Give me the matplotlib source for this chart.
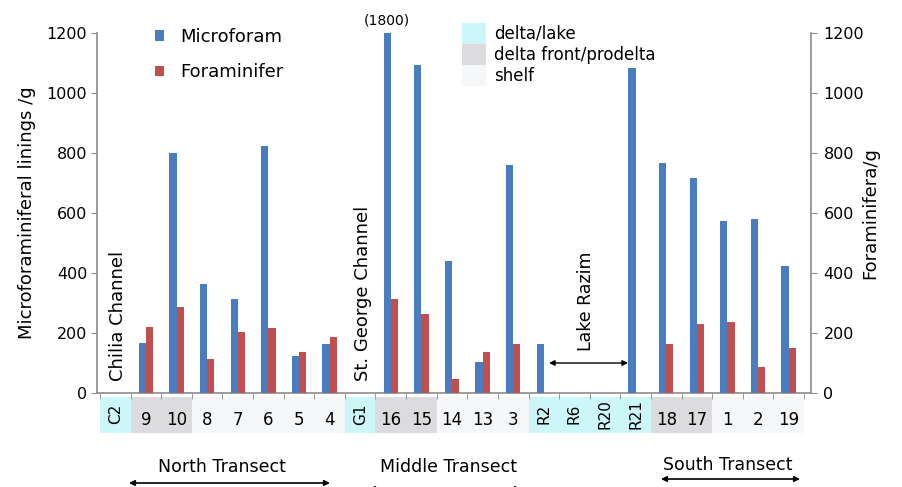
import matplotlib
matplotlib.use("Agg")
import matplotlib.pyplot as plt
from matplotlib.patches import Patch, Rectangle, FancyArrowPatch
import matplotlib.transforms as mtransforms

categories = ["C2", "9", "10", "8", "7", "6", "5", "4", "G1", "16", "15", "14", "13",
              "3", "R2", "R6", "R20", "R21", "18", "17", "1", "2", "19"]
microforam = [0, 167, 799, 363, 313, 824, 123, 163, 0, 1800, 1093, 441, 104,
              760, 163, 0, 0, 1082, 767, 717, 573, 581, 423]
foraminifer = [0, 220, 288, 113, 204, 217, 138, 188, 0, 313, 263, 47, 138,
               163, 0, 0, 0, 0, 163, 230, 238, 88, 150]
zones = ["lake", "front", "front", "shelf", "shelf", "shelf", "shelf", "shelf",
         "lake", "front", "front", "shelf", "shelf", "shelf",
         "lake", "lake", "lake", "lake", "front", "front", "shelf", "shelf", "shelf"]
rotated_labels = ["C2", "G1", "R2", "R6", "R20", "R21"]
zone_colors = {"lake": "#ccf6f8", "front": "#dcdcde", "shelf": "#f6f7f9"}
zone_names = {"lake": "delta/lake", "front": "delta front/prodelta", "shelf": "shelf"}
yticks = [0, 200, 400, 600, 800, 1000, 1200]

BLUE = "#4a7dc0"
RED = "#c0504d"
GREY = "#8c8c8c"

plt.rcParams['font.family'] = ['DejaVu Sans']
fig = plt.figure(figsize=(9.02, 4.87), dpi=100)
ax = fig.add_axes([97 / 902, 1 - 393 / 487, (811 - 97) / 902, 360 / 487])

x = list(range(len(categories)))
w = 0.235
ax.bar([i - w for i in x], microforam, width=w, align="edge", color=BLUE, zorder=3)
ax.bar(x, foraminifer, width=w, align="edge", color=RED, zorder=3)

ax.set_xlim(-0.6, 22.73)
ax.set_ylim(0, 1200)
ax.set_yticks(yticks)
ax.tick_params(axis="y", labelsize=11.5, length=4, color=GREY, pad=3)
ax.set_xticks([])
ax.set_xticks([i - 0.5 for i in x] + [len(x) - 0.5], minor=True)
ax.tick_params(axis="x", which="minor", length=4, color=GREY, direction="out")
for s in ["top", "right"]:
    ax.spines[s].set_visible(False)
for s in ["left", "bottom"]:
    ax.spines[s].set_color(GREY)
    ax.spines[s].set_linewidth(1.2)
ax.set_ylabel("Microforaminiferal linings /g", fontsize=13, labelpad=8)

ax2 = ax.twinx()
ax2.set_ylim(0, 1200)
ax2.set_yticks(yticks)
ax2.tick_params(axis="y", labelsize=11.5, length=4, color=GREY, pad=5)
for s in ["top", "left", "bottom"]:
    ax2.spines[s].set_visible(False)
ax2.spines["right"].set_color(GREY)
ax2.spines["right"].set_linewidth(1.2)
ax2.set_ylabel("Foraminifera/g", fontsize=13, labelpad=-2)

# category label strip
trans = mtransforms.blended_transform_factory(ax.transData, ax.transAxes)
for i, (lab, z) in enumerate(zip(categories, zones)):
    ax.add_patch(Rectangle((i - 0.5, -0.111), 1.0, 0.1, transform=trans,
                           facecolor=zone_colors[z], edgecolor="none", clip_on=False, zorder=1))
    if lab in rotated_labels:
        ax.text(i, -0.058, lab, transform=trans, rotation=90, ha="center", va="center",
                fontsize=11, clip_on=False)
    else:
        ax.text(i, -0.075, lab, transform=trans, ha="center", va="center",
                fontsize=12, clip_on=False)

# annotations
ax.text(8.88, 1240, "(1800)", ha="center", va="center", fontsize=10, clip_on=False)
ax.text(0.08, 40, "Chilia Channel", rotation=90, ha="center", va="bottom", fontsize=13)
ax.text(8.1, 40, "St. George Channel", rotation=90, ha="center", va="bottom", fontsize=13)
ax.text(15.38, 307, "Lake Razim", rotation=90, ha="center", va="center", fontsize=12.5)
ax.annotate("", xy=(14.17, 100), xytext=(16.75, 100),
            arrowprops=dict(arrowstyle="<|-|>", color="black", lw=1.0,
                            mutation_scale=8, shrinkA=0, shrinkB=0))

# transects
def fx(px):
    return px / 902

def fy(py):
    return 1 - py / 487

for name, cx, ty, ax0, ax1, ay in [("North Transect", 222, 467, 129, 330, 483),
                                   ("Middle Transect", 449, 467, 369, 521, 489),
                                   ("South Transect", 728, 465, 661, 800, 479)]:
    fig.text(fx(cx), fy(ty), name, ha="center", va="center", fontsize=12.5)
    fig.add_artist(FancyArrowPatch(
        (fx(ax0), fy(ay)), (fx(ax1), fy(ay)), transform=fig.transFigure,
        arrowstyle="<|-|>", mutation_scale=8, color="black", lw=1.2,
        shrinkA=0, shrinkB=0))

# legends
leg1 = fig.legend(handles=[Patch(facecolor=BLUE), Patch(facecolor=RED)],
                  labels=["Microforam", "Foraminifer"],
                  loc="upper left", bbox_to_anchor=(fx(155), fy(28)),
                  frameon=False, fontsize=13, handlelength=0.5, handleheight=0.5,
                  handletextpad=0.9, labelspacing=0.95, borderpad=0, borderaxespad=0)
leg2 = fig.legend(handles=[Patch(facecolor=zone_colors[k]) for k in ["lake", "front", "shelf"]],
                  labels=[zone_names[k] for k in ["lake", "front", "shelf"]],
                  loc="upper left", bbox_to_anchor=(fx(462), fy(23)),
                  frameon=False, fontsize=12, handlelength=1.45, handleheight=1.56,
                  handletextpad=0.45, labelspacing=0.0, borderpad=0, borderaxespad=0)

fig.savefig("out.png", dpi=100)
